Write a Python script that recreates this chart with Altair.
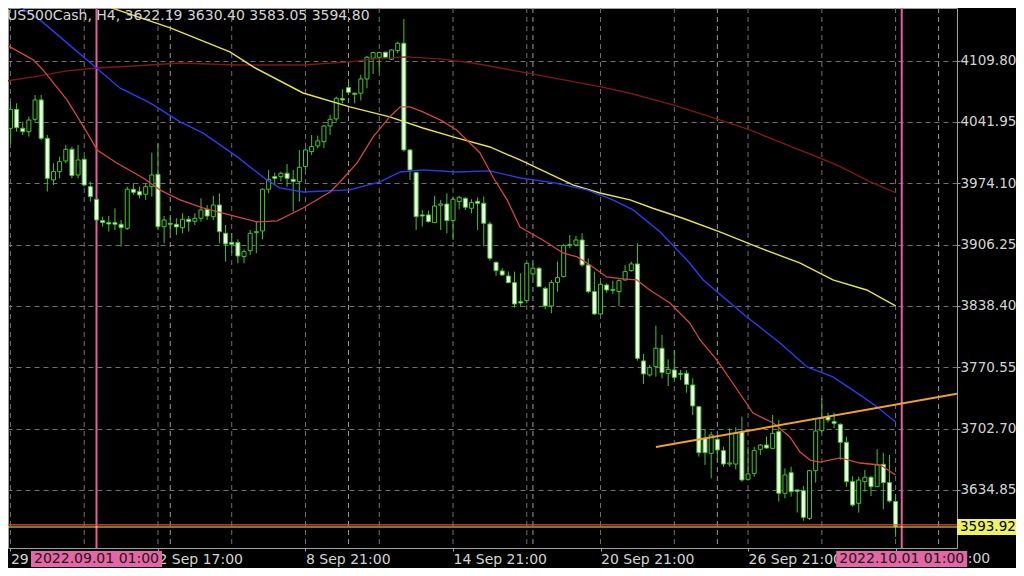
import altair as alt
import pandas as pd

TITLE = "US500Cash, H4, 3622.19 3630.40 3583.05 3594.80"

OPEN = [4023.9, 4034.9, 4055.9, 4034.9, 4031.2, 4044.9, 4066.3, 4023.9, 3977.8, 3987.0,
        3998.8, 4011.7, 3983.3, 4000.6, 3970.4, 3956.4, 3932.8, 3930.6, 3930.6, 3928.8,
        3924.3, 3967.5, 3964.9, 3962.0, 3970.4, 3984.0, 3926.1, 3929.8, 3928.8, 3925.0,
        3934.3, 3932.1, 3935.4, 3945.3, 3937.2, 3950.1, 3918.8, 3908.8, 3908.5, 3893.0,
        3899.6, 3919.5, 3921.4, 3967.5, 3981.5, 3981.5, 3985.2, 3978.5, 3976.0, 3992.6,
        4009.2, 4015.4, 4020.2, 4037.5, 4045.3, 4067.8, 4079.9, 4073.7, 4073.7, 4089.5,
        4112.4, 4113.5, 4119.0, 4111.3, 4120.9, 4129.0, 4011.0, 3985.9, 3939.1, 3939.1,
        3930.6, 3949.8, 3951.2, 3932.8, 3953.8, 3957.5, 3946.5, 3954.2, 3952.0, 3929.1,
        3886.7, 3877.1, 3871.6, 3864.2, 3843.2, 3844.3, 3873.8, 3880.1, 3857.9, 3838.4,
        3864.6, 3870.9, 3905.2, 3905.9, 3911.4, 3883.8, 3854.3, 3829.6, 3861.6, 3856.5,
        3854.3, 3867.2, 3877.5, 3884.9, 3777.6, 3762.1, 3771.3, 3791.6, 3763.9, 3767.6,
        3763.6, 3763.9, 3751.0, 3727.0, 3692.0, 3675.4, 3690.9, 3678.4, 3663.6, 3663.6,
        3699.4, 3646.7, 3653.3, 3679.9, 3684.6, 3680.9, 3699.4, 3631.2, 3654.0, 3634.9,
        3634.1, 3603.5, 3656.2, 3700.5, 3716.0, 3710.5, 3707.5, 3687.6, 3644.1, 3620.1,
        3644.1, 3648.9, 3638.5, 3663.3, 3643.0, 3622.19]
HIGH = [4047.8, 4064.4, 4062.6, 4042.3, 4047.8, 4071.8, 4071.8, 4027.5, 3996.2, 4003.6,
        4016.5, 4014.6, 4016.5, 4003.6, 3975.9, 3957.5, 3937.2, 3937.9, 3946.4, 3933.5,
        3970.4, 3974.1, 3970.4, 3974.1, 4008.0, 4018.3, 3937.9, 3937.2, 3935.4, 3940.9,
        3937.9, 3940.9, 3957.5, 3950.1, 3960.1, 3963.0, 3928.0, 3918.8, 3912.2, 3901.1,
        3922.5, 3931.7, 3968.6, 3988.9, 3985.9, 3987.0, 3995.5, 3988.9, 4011.0, 4012.8,
        4027.6, 4026.9, 4038.6, 4049.7, 4070.0, 4078.1, 4089.5, 4074.4, 4094.0, 4115.0,
        4119.8, 4119.8, 4119.8, 4122.4, 4130.8, 4155.9, 4011.7, 3987.0, 3944.6, 3943.9,
        3960.1, 3955.7, 3963.0, 3959.4, 3960.1, 3958.6, 3956.4, 3958.6, 3959.4, 3931.7,
        3887.5, 3880.1, 3876.4, 3876.4, 3874.6, 3886.4, 3885.6, 3881.2, 3859.8, 3867.2,
        3887.5, 3907.0, 3917.0, 3915.9, 3918.8, 3891.1, 3876.4, 3865.3, 3863.5, 3866.4,
        3867.9, 3883.8, 3887.5, 3907.7, 3785.3, 3773.1, 3816.6, 3806.3, 3779.4, 3789.7,
        3767.6, 3767.6, 3758.4, 3727.8, 3702.0, 3699.4, 3693.9, 3682.8, 3703.1, 3704.2,
        3716.0, 3682.8, 3682.8, 3685.7, 3693.9, 3717.8, 3712.3, 3658.8, 3660.7, 3634.9,
        3639.3, 3657.0, 3713.0, 3736.3, 3720.4, 3720.4, 3708.6, 3693.9, 3650.0, 3649.6,
        3657.0, 3650.3, 3679.9, 3676.1, 3673.6, 3630.40]
LOW = [4016.5, 4018.3, 4031.2, 4027.5, 4025.7, 4042.3, 4022.0, 3964.9, 3972.2, 3979.6,
       3996.2, 3979.6, 3979.6, 3970.4, 3953.8, 3931.7, 3926.1, 3920.6, 3922.4, 3904.0,
       3922.4, 3961.2, 3957.5, 3955.7, 3959.3, 3922.4, 3907.7, 3918.8, 3917.0, 3918.8,
       3920.6, 3928.0, 3931.7, 3933.5, 3933.5, 3907.7, 3887.5, 3896.7, 3885.6, 3885.6,
       3894.8, 3896.7, 3912.2, 3963.0, 3972.3, 3976.0, 3970.4, 3942.8, 3953.8, 3988.9,
       4005.5, 4012.8, 4012.8, 4027.6, 4042.3, 4062.6, 4071.8, 4062.6, 4065.6, 4079.2,
       4095.1, 4097.7, 4112.4, 4110.6, 4117.9, 4009.2, 3977.8, 3922.5, 3926.2, 3930.6,
       3930.6, 3922.5, 3918.8, 3911.4, 3945.3, 3944.6, 3940.9, 3922.5, 3904.0, 3888.6,
       3871.6, 3871.6, 3863.5, 3836.9, 3837.7, 3841.4, 3869.0, 3859.1, 3834.7, 3830.3,
       3854.3, 3870.1, 3902.2, 3904.1, 3881.9, 3852.4, 3828.5, 3828.5, 3853.2, 3851.7,
       3838.4, 3866.4, 3876.4, 3777.9, 3752.1, 3760.2, 3760.2, 3758.4, 3749.9, 3756.5,
       3756.5, 3742.5, 3717.8, 3671.7, 3662.5, 3647.8, 3666.2, 3660.7, 3660.7, 3657.7,
       3644.1, 3645.9, 3649.6, 3673.6, 3680.6, 3679.8, 3622.0, 3625.6, 3627.5, 3609.8,
       3600.9, 3601.7, 3643.0, 3698.3, 3709.4, 3703.1, 3668.0, 3638.5, 3616.4, 3609.8,
       3633.0, 3628.2, 3638.5, 3613.5, 3620.8, 3583.05]
CLOSE = [4034.9, 4055.9, 4035.7, 4031.2, 4044.1, 4066.3, 4023.9, 3979.6, 3987.0, 3998.0,
         4011.7, 3982.6, 3999.9, 3972.2, 3959.3, 3933.5, 3930.6, 3929.1, 3928.8, 3925.0,
         3967.5, 3964.1, 3961.2, 3970.4, 3983.3, 3926.1, 3933.5, 3928.8, 3925.8, 3934.3,
         3931.7, 3935.4, 3944.6, 3937.9, 3950.1, 3920.6, 3907.0, 3906.6, 3893.7, 3898.5,
         3918.8, 3920.6, 3967.5, 3978.5, 3979.6, 3985.2, 3979.6, 3976.0, 3991.8, 4011.0,
         4014.7, 4021.0, 4037.5, 4044.9, 4068.1, 4066.3, 4074.8, 4072.6, 4089.5, 4113.5,
         4118.7, 4118.7, 4113.5, 4121.6, 4129.0, 4011.0, 3988.9, 3937.2, 3937.9, 3931.7,
         3949.0, 3951.2, 3932.8, 3956.4, 3958.6, 3947.6, 3952.7, 3952.0, 3929.9, 3891.2,
         3877.5, 3872.7, 3864.2, 3840.6, 3841.7, 3885.6, 3880.1, 3859.8, 3838.4, 3864.2,
         3869.8, 3905.2, 3906.3, 3911.4, 3883.8, 3854.3, 3829.6, 3862.4, 3856.1, 3855.7,
         3866.4, 3876.4, 3884.9, 3780.5, 3763.2, 3770.2, 3791.6, 3764.7, 3768.3, 3759.5,
         3762.8, 3751.7, 3727.8, 3676.1, 3676.1, 3695.7, 3679.1, 3663.6, 3664.7, 3697.5,
         3645.9, 3652.6, 3678.4, 3684.6, 3681.3, 3697.5, 3631.2, 3651.5, 3633.0, 3633.4,
         3604.6, 3656.2, 3700.1, 3714.1, 3712.3, 3708.6, 3687.6, 3644.1, 3618.3, 3645.9,
         3648.9, 3638.5, 3662.5, 3643.0, 3622.7, 3594.80]

# Moving averages read at sample bars
MA_RED_BAR = [-0.2, 4.7, 6.3, 10.2, 13.5, 15.1, 18.3, 22.6, 25.3, 28.6, 32.3, 37.9, 41.1, 44.4,
              48.6, 53.0, 54.6, 57.4, 60.0, 62.7, 64.4, 66.0, 68.1, 70.9, 73.6, 77.4, 79.5,
              81.8, 83.9, 87.6, 90.9, 93.2, 95.3, 98.0, 100.6, 102.9, 105.0, 108.3, 111.5,
              113.2, 115.9, 118.5, 121.8, 125.1, 127.8, 129.4, 131.1, 132.7, 136.0, 139.2,
              142.5, 145.0]
MA_RED = [4129.4, 4110.6, 4099.5, 4066.3, 4029.8, 4011.0, 3996.6, 3980.0, 3966.8, 3955.7,
          3946.8, 3936.9, 3931.4, 3932.5, 3946.8, 3964.5, 3975.6, 3996.6, 4025.4, 4047.5,
          4058.6, 4058.6, 4053.0, 4044.2, 4033.1, 4007.7, 3981.1, 3955.7, 3925.8, 3911.4,
          3897.0, 3892.6, 3883.8, 3870.5, 3868.3, 3867.2, 3856.1, 3841.7, 3819.6, 3800.8,
          3778.7, 3753.2, 3720.0, 3709.0, 3693.5, 3677.2, 3668.0, 3665.8, 3670.3, 3664.7,
          3662.5, 3651.4]
MA_BLUE_BAR = [1.5, 5.8, 10.2, 15.0, 18.8, 23.7, 28.6, 32.3, 37.9, 42.7, 44.8, 48.6, 56.2,
               61.1, 64.4, 68.1, 73.6, 79.0, 83.9, 89.3, 94.8, 99.0, 102.3, 106.7, 111.5,
               113.7, 120.8, 126.2, 130.6, 134.8, 139.2, 142.0, 145.0]
MA_BLUE = [4173.3, 4154.8, 4129.4, 4101.7, 4079.6, 4063.0, 4042.0, 4029.8, 4003.3, 3977.8,
           3969.0, 3964.5, 3966.8, 3975.6, 3986.6, 3988.9, 3986.6, 3987.8, 3980.0, 3974.8,
           3966.8, 3955.7, 3944.6, 3920.3, 3886.0, 3867.2, 3826.2, 3797.5, 3770.9, 3759.9,
           3740.0, 3726.7, 3710.1]
MA_YELLOW_BAR = [9.1, 15.1, 27.0, 36.7, 40.5, 48.6, 56.2, 62.7, 68.1, 73.0, 79.0, 83.9, 92.5,
                 96.9, 101.8, 105.5, 110.4, 116.4, 122.9, 129.4, 134.8, 140.3, 145.0]
MA_YELLOW = [4182.5, 4173.6, 4146.0, 4119.4, 4102.8, 4074.0, 4058.6, 4047.5, 4035.3, 4025.4,
             4014.3, 3999.9, 3972.3, 3963.4, 3955.7, 3946.5, 3935.4, 3920.3, 3902.6, 3886.0,
             3867.2, 3856.1, 3838.4]
MA_MAROON_BAR = [-0.7, 4.7, 10.2, 15.1, 21.0, 28.6, 37.9, 48.6, 56.2, 60.0, 65.5, 70.9, 76.2,
                 83.9, 96.9, 101.8, 108.8, 116.0, 121.3, 127.3, 132.7, 136.0, 140.8, 145.0]
MA_MAROON = [4086.2, 4091.8, 4098.4, 4101.7, 4103.9, 4107.2, 4105.0, 4105.0, 4108.4, 4111.7,
             4113.9, 4111.7, 4107.2, 4097.6, 4081.0, 4073.7, 4060.8, 4045.0, 4033.1, 4016.5,
             4002.1, 3992.5, 3975.9, 3963.8]

Y_TICKS = [4109.80, 4041.95, 3974.10, 3906.25, 3838.40, 3770.55, 3702.70, 3634.85]
X_TICK_BARS = [1, 25, 49, 73, 97, 121, 145]
# visible parts of the time labels (the rest is hidden behind the pink markers)
X_TICK_LABELS = ["29", "2 Sep 17:00", "8 Sep 21:00", "14 Sep 21:00",
                 "20 Sep 21:00", "26 Sep 21:00", ""]
LAST_LABEL_TAIL = ":00"
GRID_BARS = [1, 13, 25, 37, 49, 61, 73, 85, 97, 109, 121, 133, 145]
SEPARATOR_BARS = [27, 56, 86, 116, 152]
MARKER_BARS = [15, 146]
MARKER_LABELS = ["2022.09.01 01:00", "2022.10.01 01:00"]
TREND_BARS = [106.0, 155.0]
TREND_PRICES = [3682.4, 3741.3]
BID = 3593.92
ASK = 3596.2

W, H = 949, 540
PAD_R = 59
FONT = "DejaVu Sans"
GREEN = "#46c42a"
TXT = "#d4d4d4"

xs = alt.Scale(domain=[0.602, 154.99], nice=False, zero=False, padding=0)
ys = alt.Scale(domain=[3570.69, 4168.0], nice=False, zero=False, padding=0)

label_expr = " : ".join(f"datum.value == {b} ? '{t}'" for b, t in zip(X_TICK_BARS, X_TICK_LABELS)) + " : ''"

x_axis = alt.Axis(values=X_TICK_BARS, labelExpr=label_expr, orient="bottom", tickSize=3,
                  labelPadding=1, labelAlign="left", labelBaseline="top", labelFlush=False,
                  labelOverlap=False, labelBound=False, grid=False, domain=False,
                  tickColor="#a0a0a0", labelColor=TXT, labelFont=FONT, labelFontSize=14,
                  title=None)
y_axis = alt.Axis(values=Y_TICKS, format=".2f", orient="right", tickSize=3, labelPadding=0,
                  tickColor="#a0a0a0", labelColor=TXT, labelFont=FONT, labelFontSize=13.5,
                  grid=True, gridColor="#707070", gridDash=[5, 4], gridWidth=1,
                  domain=False, labelOverlap=False, labelBound=False, labelFlush=False,
                  title=None)


def X(field):
    return alt.X(field, type="quantitative", scale=xs, axis=x_axis)


def Y(field):
    return alt.Y(field, type="quantitative", scale=ys, axis=y_axis)


candles = pd.DataFrame({"i": list(range(len(OPEN))), "o": OPEN, "h": HIGH, "l": LOW, "c": CLOSE})

grid_v = alt.Chart(pd.DataFrame({"i": GRID_BARS})).mark_rule(
    strokeDash=[5, 4], strokeWidth=1, color="#707070", clip=True).encode(
    x=X("i"), y=alt.value(0), y2=alt.value(H))
sep_v = alt.Chart(pd.DataFrame({"i": SEPARATOR_BARS})).mark_rule(
    strokeDash=[5, 4], strokeWidth=1, color="#9a9a9a", clip=True).encode(
    x=X("i"), y=alt.value(0), y2=alt.value(H))

markers = pd.DataFrame({"i": MARKER_BARS, "label": MARKER_LABELS})
pink_lines = alt.Chart(markers).mark_rule(color="#e2609f", strokeWidth=2).encode(
    x=X("i"), y=alt.value(0), y2=alt.value(H))

wicks = alt.Chart(candles).mark_rule(color=GREEN, strokeWidth=1, clip=True).encode(
    x=X("i"), y=Y("l"), y2="h:Q")

bodies = alt.Chart(candles).mark_bar(width=4, stroke=GREEN, strokeWidth=1, clip=True).encode(
    x=X("i"), y=Y("o"), y2="c:Q",
    fill=alt.condition("datum.c < datum.o", alt.value("#f4fff0"), alt.value("#000000")),
)


def ma_layer(bars, vals, color, width=1.3):
    df = pd.DataFrame({"i": bars, "p": vals})
    return alt.Chart(df).mark_line(color=color, strokeWidth=width, clip=True).encode(
        x=X("i"), y=Y("p"))


ma_maroon = ma_layer(MA_MAROON_BAR, MA_MAROON, "#7c1a12", 1.4)
ma_yellow = ma_layer(MA_YELLOW_BAR, MA_YELLOW, "#e6e34a", 1.4)
ma_blue = ma_layer(MA_BLUE_BAR, MA_BLUE, "#2a3cf2", 1.4)
ma_red = ma_layer(MA_RED_BAR, MA_RED, "#d2483a", 1.3)

trend = alt.Chart(pd.DataFrame({"i": TREND_BARS, "p": TREND_PRICES})).mark_line(
    color="#f0a030", strokeWidth=2, clip=True).encode(x=X("i"), y=Y("p"))

ask_line = alt.Chart(pd.DataFrame({"p": [ASK]})).mark_rule(color="#f04a2a", strokeWidth=1.2).encode(
    y=Y("p"), x=alt.value(0), x2=alt.value(W))
bid_line = alt.Chart(pd.DataFrame({"p": [BID]})).mark_rule(color="#f2f45c", strokeWidth=1.2).encode(
    y=Y("p"), x=alt.value(0), x2=alt.value(W))


def box_shape(half_h):
    return f"M-1,-{half_h:.4f} L1,-{half_h:.4f} L1,{half_h:.4f} L-1,{half_h:.4f} Z"


pink_box = alt.Chart(markers).mark_point(
    shape=box_shape(16 / 131), size=131 * 131, filled=True, fill="#e466a4", strokeWidth=0,
    opacity=1, clip=False).encode(x=X("i"), y=alt.value(H + 11))
pink_text = alt.Chart(markers).mark_text(
    font=FONT, fontSize=14, color="#161616", align="center", baseline="middle", clip=False).encode(
    x=X("i"), y=alt.value(H + 11), text="label:N")
tail_text = alt.Chart(pd.DataFrame({"i": [MARKER_BARS[-1]], "t": [LAST_LABEL_TAIL]})).mark_text(
    font=FONT, fontSize=14, color=TXT, align="left", baseline="middle", dx=66, clip=False).encode(
    x=X("i"), y=alt.value(H + 11), text="t:N")

bid_df = pd.DataFrame({"p": [BID], "label": [f"{BID:.2f}"]})
bid_box = alt.Chart(bid_df).mark_point(
    shape=box_shape(16 / PAD_R), size=PAD_R * PAD_R, filled=True, fill="#eef25c", strokeWidth=0,
    opacity=1, clip=False).encode(x=alt.value(W + PAD_R / 2), y=Y("p"))
bid_text = alt.Chart(bid_df).mark_text(
    font=FONT, fontSize=13.5, color="#000000", align="left", baseline="middle", clip=False).encode(
    x=alt.value(W + 3), y=Y("p"), text="label:N")

title = alt.Chart(pd.DataFrame({"t": [TITLE]})).mark_text(
    font=FONT, fontSize=14, color=TXT, align="left", baseline="middle").encode(
    x=alt.value(-1), y=alt.value(8), text="t:N")

chart = alt.layer(
    grid_v, sep_v, pink_lines, wicks, bodies,
    ma_maroon, ma_yellow, ma_blue, ma_red, trend, ask_line, bid_line,
    pink_box, pink_text, tail_text, bid_box, bid_text, title,
).properties(
    width=W, height=H,
    padding={"left": 0, "top": 0, "right": PAD_R, "bottom": 20},
    autosize=alt.AutoSizeParams(type="none"),
    background="#000000",
).configure_view(stroke="#a0a0a0", strokeWidth=1)

chart.save("out.html", embed_options={"renderer": "svg", "actions": False})
